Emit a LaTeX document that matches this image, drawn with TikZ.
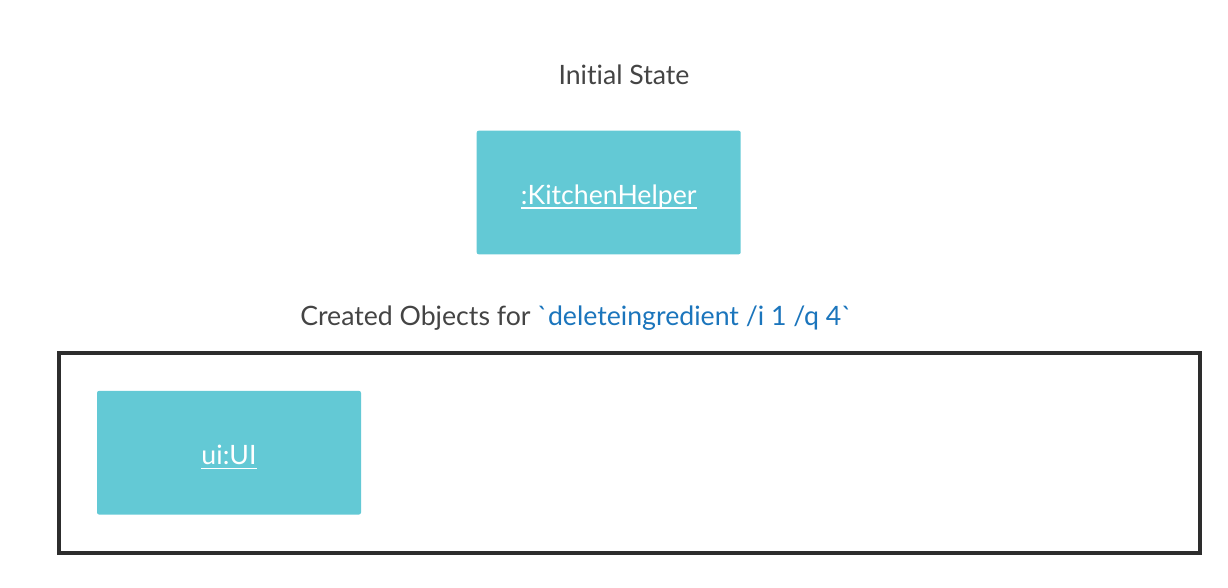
\documentclass[tikz,border=0pt]{standalone}
\usepackage{fontspec}
\setmainfont{Lato}[Ligatures={NoCommon}]
\newfontfamily\cmdfont{Lato}[Ligatures={TeXOff,NoCommon}]
\definecolor{objfill}{HTML}{63C9D5}
\definecolor{titlegray}{HTML}{444444}
\definecolor{cmdblue}{HTML}{1B75BC}
\definecolor{framegray}{HTML}{2D2D2D}
\newcommand{\objlabel}[1]{\raisebox{-9.2pt}[0pt][0pt]{\setbox0\hbox{#1}\rlap{\rule[-3.2pt]{\wd0}{1.3pt}}\box0}}
\begin{document}
\begin{tikzpicture}[x=0.75pt,y=-0.75pt,
  objbox/.style={fill=objfill, draw=none, rounded corners=1.5pt, minimum width=198pt, minimum height=92.7pt, inner sep=0pt, text=white, font=\fontsize{20}{24}\selectfont},
  title/.style={text=titlegray, font=\fontsize{20}{24}\selectfont, inner sep=0pt},
  frame/.style={draw=framegray, line width=3pt}]
\useasboundingbox (0,0) rectangle (1228,588);
\node[title, anchor=base] (init) at (624,85) {Initial State};
\node[objbox] (kh) at (608.7,192.5) {\objlabel{:KitchenHelper}};
\node[title, anchor=base west] (created) at (300,325) {Created Objects for \textcolor{cmdblue}{{\cmdfont\symbol{96}deleteingredient /i 1 /q 4\symbol{96}}}};
\draw[frame] (59,353) rectangle (1199.5,552.7) coordinate (framecorner);
\node[objbox] (ui) at (229,452.7) {\objlabel{ui:UI}};
\end{tikzpicture}
\end{document}
